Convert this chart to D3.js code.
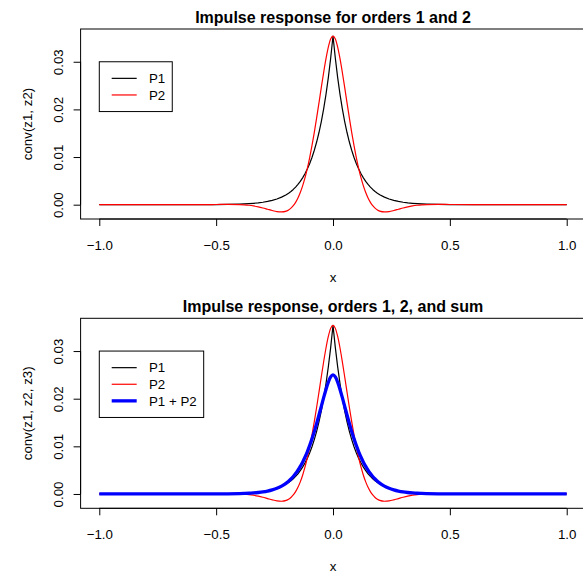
<!DOCTYPE html>
<html><head><meta charset="utf-8">
<script src="https://cdn.jsdelivr.net/npm/d3@7"></script>
<style>
html,body{margin:0;padding:0;background:#fff;}
svg text{font-family:"Liberation Sans",Arial,Helvetica,sans-serif;}
</style></head>
<body>
<svg id="chart" width="583" height="573"></svg>
<script>
// ---- data ----
const xs = [-1.0,-0.8,-0.6,-0.5,-0.45,-0.4,-0.38,-0.36,-0.34,-0.32,-0.3,-0.28,-0.26,-0.24,-0.22,
  -0.2,-0.19,-0.18,-0.17,-0.16,-0.15,-0.14,-0.13,-0.12,-0.11,-0.1,-0.09,-0.08,-0.07,-0.06,-0.05,-0.04,-0.03,-0.02,-0.01,
  0,
  0.01,0.02,0.03,0.04,0.05,0.06,0.07,0.08,0.09,0.1,0.11,0.12,0.13,0.14,0.15,0.16,0.17,0.18,0.19,0.2,
  0.22,0.24,0.26,0.28,0.3,0.32,0.34,0.36,0.38,0.4,0.45,0.5,0.6,0.8,1.0];

const p1 = [0,0,0,0.00003,0.00006,0.00012,0.00016,0.00022,0.00029,0.00038,0.00051,0.00068,0.00090,0.00119,0.00158,
  0.00209,0.00241,0.00278,0.00320,0.00368,0.00424,0.00489,0.00563,0.00649,0.00747,0.00860,0.00991,0.01142,0.01315,0.01515,0.01745,0.02010,0.02316,0.02668,0.03073,
  0.0354,
  0.03073,0.02668,0.02316,0.02010,0.01745,0.01515,0.01315,0.01142,0.00991,0.00860,0.00747,0.00649,0.00563,0.00489,0.00424,0.00368,0.00320,0.00278,0.00241,0.00209,
  0.00158,0.00119,0.00090,0.00068,0.00051,0.00038,0.00029,0.00022,0.00016,0.00012,0.00006,0.00003,0,0,0];

const p2 = [0,0,0,0.00004,0.00007,0.00003,-0.00003,-0.00012,-0.00026,-0.00045,-0.00069,-0.00096,-0.00123,-0.00145,-0.00153,
  -0.00135,-0.00111,-0.00073,-0.00021,0.00049,0.00140,0.00254,0.00394,0.00562,0.00758,0.00984,0.01238,0.01518,0.01821,0.02138,0.02461,0.02775,0.03064,0.03306,0.03476,
  0.0354,
  0.03476,0.03306,0.03064,0.02775,0.02461,0.02138,0.01821,0.01518,0.01238,0.00984,0.00758,0.00562,0.00394,0.00254,0.00140,0.00049,-0.00021,-0.00073,-0.00111,-0.00135,
  -0.00153,-0.00145,-0.00123,-0.00096,-0.00069,-0.00045,-0.00026,-0.00012,-0.00003,0.00003,0.00007,0.00004,0,0,0];

const pSum = [0,0,0,0.00001,0.00003,0.00008,0.00011,0.00015,0.00022,0.00031,0.00043,0.00061,0.00086,0.00119,0.00166,
  0.00229,0.00269,0.00314,0.00367,0.00428,0.00498,0.00578,0.00668,0.00771,0.00886,0.01015,0.01157,0.01312,0.01480,0.01657,0.01839,0.02022,0.02195,0.02346,0.02456,
  0.025,
  0.02456,0.02346,0.02195,0.02022,0.01839,0.01657,0.01480,0.01312,0.01157,0.01015,0.00886,0.00771,0.00668,0.00578,0.00498,0.00428,0.00367,0.00314,0.00269,0.00229,
  0.00166,0.00119,0.00086,0.00061,0.00043,0.00031,0.00022,0.00015,0.00011,0.00008,0.00003,0.00001,0,0,0];

const xTicks = [-1.0,-0.5,0.0,0.5,1.0];
const yTicks = [0.00,0.01,0.02,0.03];
const titles = ["Impulse response for orders 1 and 2","Impulse response, orders 1, 2, and sum"];
const yLabels = ["conv(z1, z2)","conv(z1, z2, z3)"];
const xLabel = "x";
const seriesNames = ["P1","P2","P1 + P2"];
const seriesColors = ["#000000","#ff0000","#0000ff"];
const seriesWidths = [1.2,1.2,3.3];
const legendPos = [-1.0, 0.03];

// ---- drawing ----
const svg = d3.select("#chart");
const FS = 13.3;
const panels = [
  {top:29, bottom:219, series:[p1,p2], idx:[0,1]},
  {top:318.3, bottom:508.3, series:[p1,p2,pSum], idx:[0,1,2]}
];

function rPad(ext){const s=(ext[1]-ext[0])*0.04;return [ext[0]-s, ext[1]+s];}

const x = d3.scaleLinear().domain(rPad(d3.extent(xs))).range([80.6,585.4]);

panels.forEach((pn,pi)=>{
  const all = pn.series.flat();
  const y = d3.scaleLinear().domain(rPad(d3.extent(all))).range([pn.bottom,pn.top]);
  const g = svg.append("g");

  // series lines
  pn.series.forEach((s,si)=>{
    const k = pn.idx[si];
    const line = d3.line().x((d,i)=>x(xs[i])).y(d=>y(d))
      .curve(k===0 ? d3.curveLinear : d3.curveMonotoneX);
    g.append("path").datum(s).attr("d",line).attr("fill","none")
      .attr("stroke",seriesColors[k]).attr("stroke-width",seriesWidths[k])
      .attr("stroke-linejoin","round");
  });

  // box
  g.append("rect").attr("x",x.range()[0]).attr("y",pn.top)
    .attr("width",x.range()[1]-x.range()[0]).attr("height",pn.bottom-pn.top)
    .attr("fill","none").attr("stroke","#000").attr("stroke-width",1);

  // x axis
  const xa = g.append("g").attr("transform",`translate(0,${pn.bottom})`)
    .call(d3.axisBottom(x).tickValues(xTicks).tickSize(7).tickFormat(d3.format(".1f")));
  xa.select(".domain").remove();
  xa.append("line").attr("x1",x(xTicks[0])).attr("x2",x(xTicks[xTicks.length-1]))
    .attr("y1",0).attr("y2",0).attr("stroke","#000");
  xa.selectAll(".tick line").attr("stroke","#000");
  xa.selectAll(".tick text").attr("y",31).attr("dy",null)
    .attr("font-size",FS).attr("fill","#000").attr("font-family","Liberation Sans, Arial, sans-serif");

  // y axis
  const ya = g.append("g").attr("transform",`translate(${x.range()[0]},0)`)
    .call(d3.axisLeft(y).tickValues(yTicks).tickSize(7).tickFormat(d3.format(".2f")));
  ya.select(".domain").remove();
  ya.append("line").attr("x1",0).attr("x2",0)
    .attr("y1",y(yTicks[0])).attr("y2",y(yTicks[yTicks.length-1])).attr("stroke","#000");
  ya.selectAll(".tick line").attr("stroke","#000");
  ya.selectAll(".tick text").attr("transform","rotate(-90)")
    .attr("x",0).attr("y",-17.5).attr("dy",null).attr("text-anchor","middle")
    .attr("font-size",FS).attr("fill","#000").attr("font-family","Liberation Sans, Arial, sans-serif");

  // title
  g.append("text").attr("x",(x.range()[0]+x.range()[1])/2).attr("y",pn.top-6)
    .attr("text-anchor","middle").attr("font-weight","bold").attr("font-size",16)
    .text(titles[pi]);
  // x label
  g.append("text").attr("x",(x.range()[0]+x.range()[1])/2).attr("y",pn.bottom+62.7)
    .attr("text-anchor","middle").attr("font-size",FS).text(xLabel);
  // y label
  const cy = (pn.top+pn.bottom)/2;
  g.append("text").attr("transform",`translate(32,${cy}) rotate(-90)`)
    .attr("text-anchor","middle").attr("font-size",FS).text(yLabels[pi]);

  // legend
  const lx = x(legendPos[0]), ly = y(legendPos[1]);
  const lg = g.append("g");
  const rowH = 16.6;
  const box = lg.append("rect").attr("x",lx).attr("y",ly).attr("height",rowH*(pn.idx.length+1))
    .attr("fill","#fff").attr("stroke","#000").attr("stroke-width",1);
  let maxW = 0;
  pn.idx.forEach((k,i)=>{
    const cyy = ly + rowH*(i+1);
    lg.append("line").attr("x1",lx+12.4).attr("x2",lx+37.4).attr("y1",cyy).attr("y2",cyy)
      .attr("stroke",seriesColors[k]).attr("stroke-width",seriesWidths[k]);
    const t = lg.append("text").attr("x",lx+49.7).attr("y",cyy+4.8).attr("font-size",FS).text(seriesNames[k]);
    maxW = Math.max(maxW, t.node().getComputedTextLength());
  });
  box.attr("width",49.7+maxW+7);
});
</script>
</body></html>
